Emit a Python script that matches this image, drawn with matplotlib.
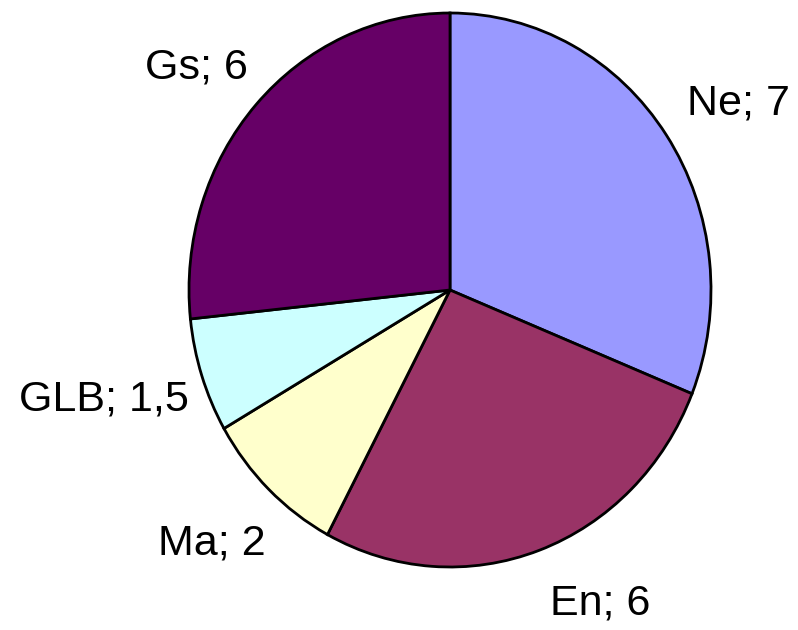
import matplotlib
matplotlib.use("Agg")
import matplotlib.pyplot as plt

categories = ["Ne", "En", "Ma", "GLB", "Gs"]
values = [7, 6, 2, 1.5, 6]
value_labels = ["7", "6", "2", "1,5", "6"]
colors = ["#9999FF", "#993366", "#FFFFCC", "#CCFFFF", "#660066"]

# label centre-x / baseline-y in pixel coordinates of the 798x630 figure
label_px = [(738, 115), (600, 615), (212, 555), (104, 410), (196, 78)]

W, H = 798, 630
cx, cy, rx, ry = 450, 290, 261, 277

fig = plt.figure(figsize=(W / 100, H / 100), dpi=100)
ax = fig.add_axes([(cx - rx) / W, (H - cy - ry) / H, 2 * rx / W, 2 * ry / H])
ax.pie(values, colors=colors, startangle=90, counterclock=False,
       wedgeprops=dict(edgecolor="black", linewidth=2.0), radius=1)
ax.set_aspect("auto")
ax.set_xlim(-1, 1)
ax.set_ylim(-1, 1)
ax.axis("off")

for cat, vl, (px, py) in zip(categories, value_labels, label_px):
    fig.text(px / W, 1 - py / H, f"{cat}; {vl}", ha="center", va="baseline",
             fontsize=31, family=["Liberation Sans", "DejaVu Sans"])

fig.savefig("out.png", dpi=100, facecolor="white")
